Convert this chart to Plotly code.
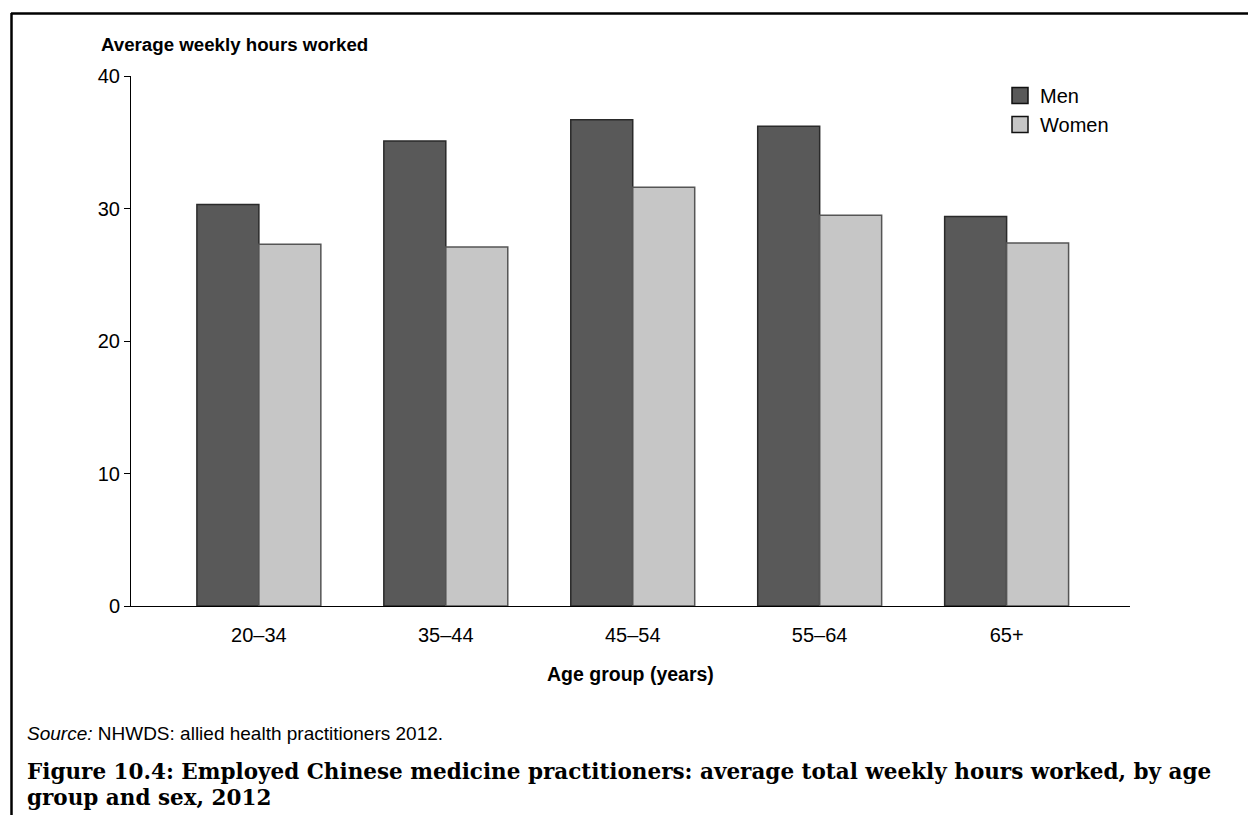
import plotly.graph_objects as go

categories = ["20–34", "35–44", "45–54", "55–64", "65+"]
men = [30.3, 35.1, 36.7, 36.2, 29.4]
women = [27.3, 27.1, 31.6, 29.5, 27.4]
y_ticks = [0, 10, 20, 30, 40]

OFF = 8  # page body margin
W, H = 1256 - OFF, 815 - OFF
L, T = 131 - OFF, 76 - OFF
R = W - (1130 - OFF)
B = H - (606 - OFF)
pw, ph = W - L - R, H - T - B


def px(x):  # reference-pixel x -> paper
    return (x - OFF - L) / pw


def py(y):  # reference-pixel y -> paper
    return (H - B - (y - OFF)) / ph


fig = go.Figure()
fig.add_trace(go.Bar(x=categories, y=men, name="Men",
                     marker=dict(color="#595959", line=dict(color="#2a2a2a", width=1.5)), showlegend=False))
fig.add_trace(go.Bar(x=categories, y=women, name="Women",
                     marker=dict(color="#c6c6c6", line=dict(color="#555555", width=1.5)), showlegend=False))
# legend entries
fig.add_trace(go.Scatter(x=[None], y=[None], mode="markers", name="Men",
                         marker=dict(symbol="square", size=20, color="#595959", line=dict(color="#111111", width=1.5))))
fig.add_trace(go.Scatter(x=[None], y=[None], mode="markers", name="Women",
                         marker=dict(symbol="square", size=20, color="#c6c6c6", line=dict(color="#111111", width=1.5))))

fig.update_layout(
    width=W, height=H,
    margin=dict(l=L, r=R, t=T, b=B, autoexpand=False),
    paper_bgcolor="white", plot_bgcolor="white",
    barmode="group", bargap=0.337, bargroupgap=0,
    font=dict(family="Liberation Sans, Arial, sans-serif", size=20, color="#000"),
    legend=dict(x=px(1000), y=py(76), xanchor="left", yanchor="top",
                bgcolor="rgba(0,0,0,0)", font=dict(size=20), tracegroupgap=0,
                itemsizing="trace"),
    showlegend=True,
)
fig.update_xaxes(type="category", range=[-0.684, 4.66], showline=True, linecolor="#000", linewidth=1,
                 ticks="", showgrid=False, zeroline=False, ticklabelstandoff=11)
fig.update_yaxes(range=[0, 40], tickvals=y_ticks, showline=True, linecolor="#000", linewidth=1,
                 ticks="outside", ticklen=6, tickcolor="#000", showgrid=False, zeroline=False)

fig.add_annotation(text="<b>Average weekly hours worked</b>", xref="paper", yref="paper",
                   x=px(99), y=py(45), xanchor="left", yanchor="middle", showarrow=False,
                   font=dict(size=18.7))
fig.add_annotation(text="<b>Age group (years)</b>", xref="paper", yref="paper",
                   x=0.5, y=py(674), xanchor="center", yanchor="middle", showarrow=False,
                   font=dict(size=19.5))
fig.add_annotation(text="<i>Source:</i> NHWDS: allied health practitioners 2012.", xref="paper", yref="paper",
                   x=px(25), y=py(733), xanchor="left", yanchor="middle", showarrow=False,
                   font=dict(size=19))
cap_font = dict(size=21.5, family="DejaVu Serif, serif")
fig.add_annotation(text="<b>Figure 10.4: Employed Chinese medicine practitioners: average total weekly hours worked, by age</b>",
                   xref="paper", yref="paper", x=px(25), y=py(771), xanchor="left", yanchor="middle",
                   align="left", showarrow=False, font=cap_font)
fig.add_annotation(text="<b>group and sex, 2012</b>",
                   xref="paper", yref="paper", x=px(25), y=py(797), xanchor="left", yanchor="middle",
                   align="left", showarrow=False, font=cap_font)

# frame
fig.add_shape(type="line", xref="paper", yref="paper", x0=px(11), x1=px(1270), y0=py(13.5), y1=py(13.5),
              line=dict(color="#000", width=2.5))
fig.add_shape(type="line", xref="paper", yref="paper", x0=px(11.5), x1=px(11.5), y0=py(13), y1=py(830),
              line=dict(color="#000", width=2.5))

fig.write_html("out.html")
